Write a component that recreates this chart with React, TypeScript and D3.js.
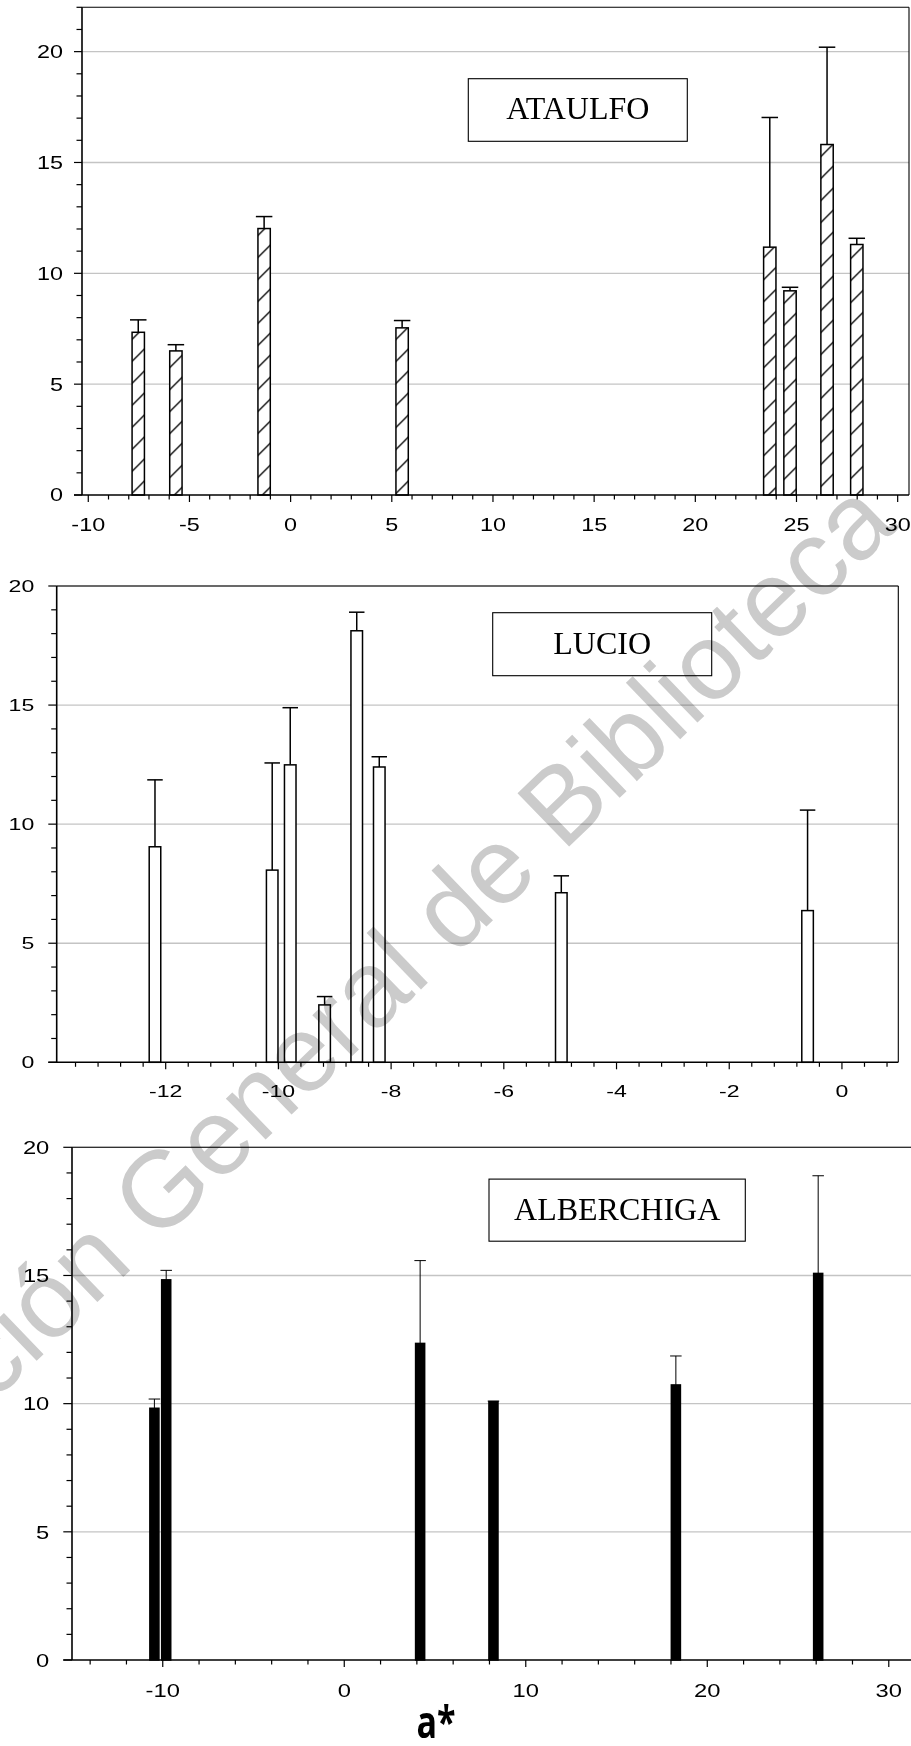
import React from "react";
import * as d3 from "d3";

// ---------- DATA ----------
const ataulfoX = [-7.53, -5.67, -1.31, 5.51, 23.68, 24.68, 26.51, 27.98];
const ataulfoY = [7.34, 6.5, 12.02, 7.54, 11.18, 9.21, 15.81, 11.3];
const ataulfoSD = [0.56, 0.28, 0.54, 0.33, 5.85, 0.16, 4.39, 0.28];

const lucioX = [-12.19, -10.11, -9.79, -9.18, -8.61, -8.21, -4.98, -0.61];
const lucioY = [9.05, 8.07, 12.49, 2.41, 18.12, 12.4, 7.12, 6.37];
const lucioSD = [2.81, 4.5, 2.4, 0.35, 0.78, 0.43, 0.71, 4.22];

const alberchigaX = [-10.46, -9.81, 4.18, 8.22, 18.27, 26.11];
const alberchigaY = [9.82, 14.83, 12.35, 10.08, 10.73, 15.08];
const alberchigaSD = [0.36, 0.37, 3.23, 0.02, 1.13, 3.81];

const ataulfoXTicks = [-10, -5, 0, 5, 10, 15, 20, 25, 30];
const lucioXTicks = [-12, -10, -8, -6, -4, -2, 0];
const alberchigaXTicks = [-10, 0, 10, 20, 30];
const yTickValues = [0, 5, 10, 15, 20];

const titles = ["ATAULFO", "LUCIO", "ALBERCHIGA"];
const xAxisTitle = "a*";
const watermark = "Colección General de Biblioteca";

// ---------- LAYOUT ----------
type PanelCfg = {
  x: number[]; y: number[]; sd: number[];
  xTicks: number[];
  left: number; right: number; top: number; bottom: number;
  xDomain: [number, number]; yMax: number;
  minorX: number[]; minorY: number[];
  barW: number; fill: string; errW: number; capW: number;
  fs: number; sx: number; yLabelRight: number; xLabelBase: number;
  border: boolean;
  title: string; box: [number, number, number, number]; titleBase: number;
  axisExtend: number;
};

const range = (a: number, b: number, s: number) => {
  const out: number[] = [];
  for (let i = 0; a + i * s <= b + 1e-9; i++) out.push(+(a + i * s).toFixed(4));
  return out;
};

const panels: PanelCfg[] = [
  {
    x: ataulfoX, y: ataulfoY, sd: ataulfoSD, xTicks: ataulfoXTicks,
    left: 82, right: 909, top: 7.3, bottom: 495,
    xDomain: [-10.31, 30.56], yMax: 22,
    minorX: range(-10, 30, 1), minorY: range(0, 22, 1),
    barW: 0.61, fill: "url(#hatch)", errW: 1.5, capW: 16.5,
    fs: 18, sx: 1.3, yLabelRight: 63, xLabelBase: 531,
    border: true, title: titles[0], box: [468.3, 78.7, 219, 62.6], titleBase: 119.3,
    axisExtend: 8,
  },
  {
    x: lucioX, y: lucioY, sd: lucioSD, xTicks: lucioXTicks,
    left: 56.7, right: 898.3, top: 586, bottom: 1062.3,
    xDomain: [-13.934, 1.0], yMax: 20,
    minorX: range(-13.6, 0.8, 0.4), minorY: range(0, 20, 1),
    barW: 0.205, fill: "#ffffff", errW: 1.5, capW: 15.5,
    fs: 16.5, sx: 1.4, yLabelRight: 34.3, xLabelBase: 1097,
    border: true, title: titles[1], box: [492.7, 612.7, 219, 63], titleBase: 654,
    axisExtend: 8.4,
  },
  {
    x: alberchigaX, y: alberchigaY, sd: alberchigaSD, xTicks: alberchigaXTicks,
    left: 72, right: 920, top: 1147.3, bottom: 1660,
    xDomain: [-15, 31.72], yMax: 20,
    minorX: range(-14, 30, 2), minorY: range(0, 20, 1),
    barW: 0.5, fill: "#000000", errW: 1, capW: 11.5,
    fs: 19, sx: 1.25, yLabelRight: 49.3, xLabelBase: 1697,
    border: false, title: titles[2], box: [489, 1179.1, 256.3, 62.1], titleBase: 1219.6,
    axisExtend: 8.7,
  },
];

const Panel = ({ c }: { c: PanelCfg }) => {
  const xs = d3.scaleLinear().domain(c.xDomain).range([c.left, c.right]);
  const ys = d3.scaleLinear().domain([0, c.yMax]).range([c.bottom, c.top]);
  const tickFont = "'Liberation Sans', Arial, sans-serif";
  return (
    <g>
      {yTickValues.filter((v) => v > 0).map((v) => (
        <line key={"g" + v} x1={c.left} x2={c.right} y1={ys(v)} y2={ys(v)} stroke="#c4c4c4" strokeWidth={1.3} />
      ))}
      <line x1={c.left} x2={c.right} y1={c.top} y2={c.top} stroke="#000" strokeWidth={1.1} />
      {c.border && <line x1={c.right} x2={c.right} y1={c.top} y2={c.bottom} stroke="#000" strokeWidth={1.1} />}
      {c.x.map((xv, i) => {
        const x0 = xs(xv - c.barW / 2);
        const x1 = xs(xv + c.barW / 2);
        const yTop = ys(c.y[i]);
        const yErr = ys(c.y[i] + c.sd[i]);
        const cx = xs(xv);
        return (
          <g key={"b" + i}>
            <line x1={cx} x2={cx} y1={yTop} y2={yErr} stroke="#000" strokeWidth={c.errW} />
            <line x1={cx - c.capW / 2} x2={cx + c.capW / 2} y1={yErr} y2={yErr} stroke="#000" strokeWidth={c.errW} />
            <rect x={x0} y={yTop} width={x1 - x0} height={c.bottom - yTop} fill={c.fill} stroke="#000" strokeWidth={1.5} />
          </g>
        );
      })}
      <line x1={c.left} x2={c.left} y1={c.top} y2={c.bottom} stroke="#000" strokeWidth={1.6} />
      <line x1={c.left - c.axisExtend} x2={c.right} y1={c.bottom} y2={c.bottom} stroke="#000" strokeWidth={1.6} />
      {c.minorY.map((v) => {
        const major = yTickValues.includes(v);
        return (
          <line key={"yt" + v} x1={c.left - (major ? c.axisExtend : 5.5)} x2={c.left} y1={ys(v)} y2={ys(v)} stroke="#000" strokeWidth={1.2} />
        );
      })}
      {c.minorX.map((v) => {
        const major = c.xTicks.some((t) => Math.abs(t - v) < 1e-6);
        return (
          <line key={"xt" + v} x1={xs(v)} x2={xs(v)} y1={c.bottom} y2={c.bottom + (major ? 7 : 4.5)} stroke="#000" strokeWidth={1.2} />
        );
      })}
      {yTickValues.map((v) => (
        <text key={"yl" + v} transform={`translate(${c.yLabelRight},${ys(v) + c.fs * 0.36}) scale(${c.sx},1)`}
          textAnchor="end" fontFamily={tickFont} fontSize={c.fs} fill="#000">{v}</text>
      ))}
      {c.xTicks.map((v) => (
        <text key={"xl" + v} transform={`translate(${xs(v)},${c.xLabelBase}) scale(${c.sx},1)`}
          textAnchor="middle" fontFamily={tickFont} fontSize={c.fs} fill="#000">{v}</text>
      ))}
      <rect x={c.box[0]} y={c.box[1]} width={c.box[2]} height={c.box[3]} fill="#fff" stroke="#000" strokeWidth={1.1} />
      <text x={c.box[0] + c.box[2] / 2} y={c.titleBase} textAnchor="middle"
        fontFamily="'Liberation Serif', 'Times New Roman', serif" fontSize={32} fill="#000">{c.title}</text>
    </g>
  );
};

export default function App() {
  return (
    <svg width={911} height={1746} viewBox="0 0 911 1746"
      style={{ position: "absolute", left: 0, top: 0, background: "#fff" }}>
      <defs>
        <pattern id="hatch" patternUnits="userSpaceOnUse" width={22} height={22} patternTransform="translate(9.4,0)">
          <rect width={22} height={22} fill="#fff" />
          <path d="M0,22 L22,0 M-11,11 L11,-11 M11,33 L33,11" stroke="#000" strokeWidth={1.3} />
        </pattern>
      </defs>
      <rect width={911} height={1746} fill="#fff" />
      {panels.map((p, i) => <Panel key={i} c={p} />)}
      <text transform="translate(436,1738) scale(1,1.3)" textAnchor="middle"
        fontFamily="'Open Sans', sans-serif" fontWeight={700} fontSize={34} fill="#000">{xAxisTitle}</text>
      <text transform="translate(-206,1595) rotate(-44)" fontFamily="'Liberation Sans', Arial, sans-serif"
        fontSize={108} fill="#cbcbcb" style={{ mixBlendMode: "multiply" }}>{watermark}</text>
    </svg>
  );
}
